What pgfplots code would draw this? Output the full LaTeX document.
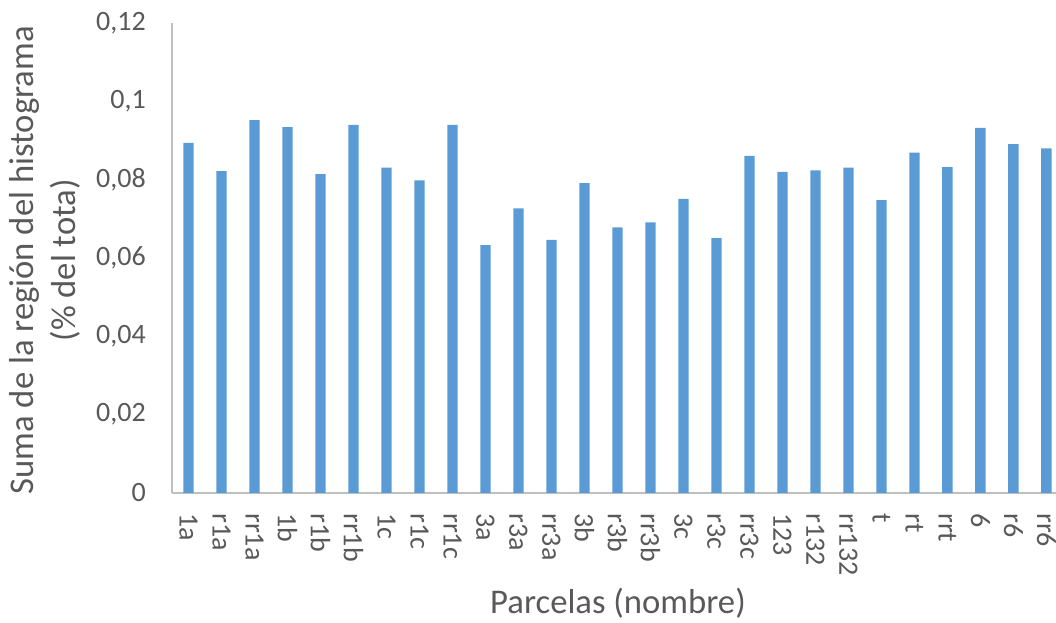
\documentclass[border=0pt]{standalone}
\usepackage{pgfplots}
\pgfplotsset{compat=1.18}
\usepackage{fontspec}
\setmainfont{Carlito}
\definecolor{barblue}{HTML}{5B9BD5}
\definecolor{txtgray}{HTML}{595959}
\definecolor{axgray}{HTML}{BFBFBF}
\begin{document}
\begin{tikzpicture}
\begin{axis}[
  name=ax,
  scale only axis,
  width=663pt, height=352.5pt,
  xmin=-0.5, xmax=26.29,
  ymin=0, ymax=0.12,
  axis x line*=bottom, axis y line*=left,
  axis line style={draw=axgray, line width=0.9pt, -},
  major tick length=0pt,
  ytick={0,0.02,0.04,0.06,0.08,0.1,0.12},
  yticklabels={0,{0,02},{0,04},{0,06},{0,08},{0,1},{0,12}},
  xtick={0,...,26},
  xticklabels={1a,r1a,rr1a,1b,r1b,rr1b,1c,r1c,rr1c,3a,r3a,rr3a,3b,r3b,rr3b,3c,r3c,rr3c,123,r132,rr132,t,rt,rrt,6,r6,rr6},
  /pgf/number format/assume math mode=true,
  tick label style={font=\fontsize{21}{25}\selectfont, text=txtgray, inner sep=0pt},
  yticklabel style={anchor=east, xshift=-19.5pt},
  xticklabel style={rotate=-90, anchor=west, xshift=15pt},
  ylabel={Suma de la región del histograma\\(\% del tota)},
  ylabel style={at={(axis description cs:-0.1437,0.495)}, anchor=center, align=center,
    font=\fontsize{26}{32}\selectfont, text=txtgray},
  xlabel={Parcelas (nombre)},
  xlabel style={at={(axis description cs:0.5045,-0.234)}, anchor=center,
    font=\fontsize{26}{30}\selectfont, text=txtgray},
  ybar, bar width=7.8pt,
]
\addplot[fill=barblue, draw=none] coordinates {
  (0,0.0894) (1,0.0822) (2,0.0952) (3,0.0934) (4,0.0814) (5,0.0940)
  (6,0.0831) (7,0.0798) (8,0.0940) (9,0.0633) (10,0.0727) (11,0.0646)
  (12,0.0791) (13,0.0678) (14,0.0691) (15,0.0751) (16,0.0651) (17,0.0861)
  (18,0.0820) (19,0.0824) (20,0.0831) (21,0.0748) (22,0.0869) (23,0.0832)
  (24,0.0932) (25,0.0891) (26,0.0880)
};
\end{axis}
\pgfresetboundingbox
\path[use as bounding box] ([shift={(-129pt,-97.5pt)}]ax.south west) rectangle ([shift={(663pt,369.75pt)}]ax.south west);
\end{tikzpicture}
\end{document}
